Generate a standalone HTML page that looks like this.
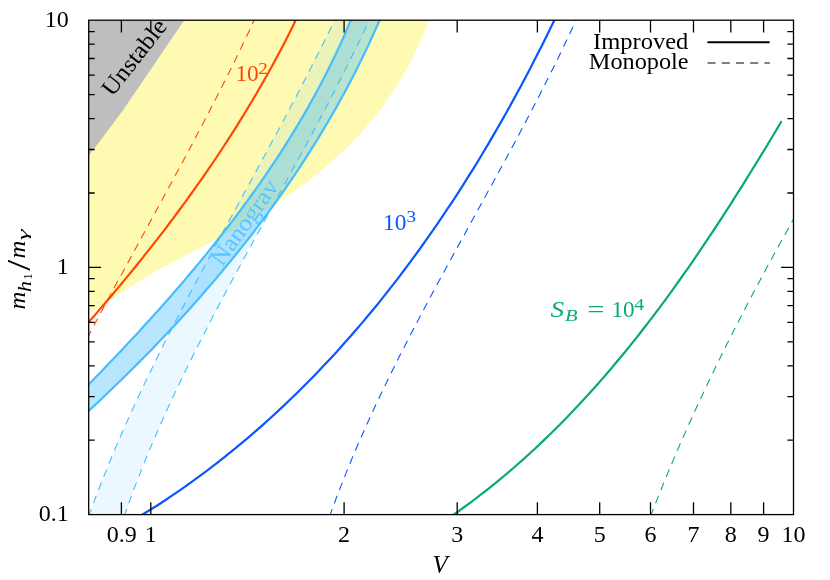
<!DOCTYPE html>
<html><head><meta charset="utf-8"><title>plot</title>
<style>html,body{margin:0;padding:0;background:#fff}svg{display:block;will-change:transform}</style>
</head><body>
<svg width="830" height="580" viewBox="0 0 830 580">
<defs><clipPath id="c"><rect x="88.7" y="20.2" width="704.8" height="494.4"/></clipPath></defs>
<rect width="830" height="580" fill="#fff"/>
<g clip-path="url(#c)">
<path d="M88.7 20.2 L430.0 17.8 L427.7 24.0 L425.2 30.2 L422.6 36.4 L419.9 42.5 L417.1 48.7 L414.1 54.7 L411.1 60.8 L407.9 66.8 L404.5 72.7 L401.1 78.6 L397.6 84.4 L393.9 90.2 L390.1 95.8 L386.2 101.4 L382.3 107.0 L378.2 112.4 L374.0 117.7 L369.7 123.0 L365.3 128.1 L360.8 133.2 L356.2 138.1 L351.5 143.0 L346.7 147.8 L341.9 152.5 L336.9 157.1 L331.9 161.6 L326.8 166.0 L321.7 170.3 L316.5 174.6 L311.2 178.7 L305.8 182.8 L300.4 186.8 L294.9 190.7 L289.4 194.5 L283.8 198.3 L278.2 201.9 L272.5 205.6 L266.8 209.2 L261.0 212.9 L255.3 216.4 L249.4 220.0 L243.6 223.5 L237.7 227.0 L231.8 230.4 L225.9 233.8 L220.0 237.1 L214.1 240.4 L208.1 243.6 L202.2 246.7 L196.2 249.8 L190.2 253.0 L184.3 256.1 L178.3 259.2 L172.4 262.3 L166.5 265.5 L160.6 268.8 L154.7 272.1 L148.8 275.5 L143.0 279.0 L137.2 282.5 L131.4 286.1 L125.7 289.8 L120.0 293.5 L114.3 297.3 L108.7 301.0 L103.1 304.8 L97.5 308.6 L92.0 312.4 L86.6 316.1 L88.7 20.2Z" fill="#fffab2"/>
<path d="M88.7 20.2 L184.3 20.2 L123.2 110 L100.8 140 L88.7 155.6Z" fill="#bebebe"/>
<path d="M88.6 516.6 L91.4 509.0 L94.2 501.4 L97.0 493.8 L99.9 486.3 L102.9 478.7 L105.9 471.2 L108.9 463.7 L112.0 456.3 L115.1 448.8 L118.3 441.4 L121.5 434.0 L124.8 426.6 L128.0 419.3 L131.4 411.9 L134.7 404.6 L138.1 397.3 L141.5 390.0 L145.0 382.7 L148.5 375.4 L152.0 368.2 L155.5 360.9 L159.1 353.7 L162.7 346.5 L166.3 339.3 L170.0 332.1 L173.7 324.9 L177.3 317.7 L181.1 310.6 L184.8 303.4 L188.5 296.3 L192.3 289.1 L196.1 282.0 L199.9 274.9 L203.7 267.8 L207.5 260.7 L211.3 253.6 L215.1 246.5 L219.0 239.4 L222.8 232.3 L226.7 225.2 L230.6 218.1 L234.4 211.0 L238.3 203.9 L242.1 196.8 L246.0 189.7 L249.9 182.7 L253.7 175.6 L257.6 168.5 L261.4 161.4 L265.3 154.3 L269.1 147.2 L272.9 140.1 L276.8 133.0 L280.6 125.9 L284.4 118.8 L288.1 111.6 L291.9 104.5 L295.7 97.4 L299.4 90.2 L303.1 83.1 L306.8 75.9 L310.5 68.7 L314.1 61.5 L317.7 54.4 L321.3 47.2 L324.9 39.9 L328.5 32.7 L332.0 25.5 L335.5 18.2 L370.2 18.2 L366.8 25.5 L363.3 32.8 L359.9 40.0 L356.4 47.3 L352.9 54.5 L349.3 61.7 L345.7 69.0 L342.1 76.1 L338.4 83.3 L334.8 90.5 L331.1 97.7 L327.4 104.8 L323.6 111.9 L319.9 119.1 L316.1 126.2 L312.3 133.3 L308.5 140.4 L304.7 147.5 L300.8 154.6 L297.0 161.7 L293.1 168.8 L289.3 175.8 L285.4 182.9 L281.5 190.0 L277.6 197.0 L273.7 204.1 L269.9 211.2 L266.0 218.2 L262.1 225.3 L258.2 232.4 L254.3 239.5 L250.5 246.5 L246.6 253.6 L242.7 260.7 L238.9 267.8 L235.1 274.9 L231.2 282.0 L227.4 289.1 L223.6 296.2 L219.9 303.3 L216.1 310.5 L212.4 317.6 L208.7 324.7 L205.0 331.9 L201.3 339.1 L197.7 346.3 L194.0 353.5 L190.5 360.7 L186.9 367.9 L183.4 375.2 L179.9 382.4 L176.4 389.7 L173.0 397.0 L169.6 404.3 L166.2 411.6 L162.9 419.0 L159.7 426.3 L156.4 433.7 L153.2 441.1 L150.1 448.6 L147.0 456.0 L144.0 463.5 L141.0 471.0 L138.0 478.5 L135.1 486.1 L132.3 493.7 L129.5 501.3 L126.8 508.9 L124.1 516.6Z" fill="#46bfff" fill-opacity="0.10"/>
<path d="M87.2 386.1 L91.8 381.3 L96.4 376.6 L100.9 371.9 L105.5 367.1 L110.1 362.3 L114.6 357.6 L119.2 352.8 L123.7 347.9 L128.2 343.1 L132.8 338.3 L137.3 333.4 L141.7 328.5 L146.2 323.6 L150.7 318.7 L155.1 313.8 L159.5 308.9 L163.9 303.9 L168.3 298.9 L172.7 293.9 L177.0 288.9 L181.4 283.9 L185.7 278.9 L190.0 273.8 L194.2 268.7 L198.5 263.6 L202.7 258.5 L206.9 253.4 L211.1 248.2 L215.2 243.0 L219.3 237.8 L223.4 232.6 L227.5 227.4 L231.5 222.1 L235.5 216.9 L239.5 211.6 L243.4 206.2 L247.4 200.9 L251.2 195.5 L255.1 190.2 L258.9 184.8 L262.7 179.3 L266.4 173.9 L270.1 168.4 L273.8 162.9 L277.5 157.4 L281.1 151.8 L284.6 146.3 L288.2 140.7 L291.6 135.1 L295.1 129.4 L298.5 123.8 L301.9 118.1 L305.2 112.4 L308.5 106.6 L311.7 100.8 L314.9 95.1 L318.0 89.2 L321.1 83.4 L324.2 77.5 L327.2 71.6 L330.1 65.7 L333.0 59.7 L335.9 53.8 L338.7 47.8 L341.5 41.7 L344.2 35.7 L346.8 29.6 L349.4 23.4 L352.0 17.3 L380.6 17.7 L377.8 24.3 L374.9 30.9 L371.9 37.5 L368.9 44.1 L365.8 50.6 L362.7 57.1 L359.5 63.6 L356.3 70.0 L353.0 76.4 L349.7 82.8 L346.3 89.2 L342.9 95.5 L339.4 101.8 L335.9 108.1 L332.4 114.3 L328.8 120.5 L325.1 126.7 L321.4 132.9 L317.7 139.0 L313.9 145.2 L310.1 151.2 L306.2 157.3 L302.3 163.3 L298.4 169.3 L294.4 175.3 L290.3 181.2 L286.3 187.2 L282.2 193.1 L278.0 198.9 L273.8 204.8 L269.6 210.6 L265.4 216.4 L261.1 222.2 L256.7 227.9 L252.4 233.6 L248.0 239.3 L243.5 244.9 L239.0 250.6 L234.5 256.2 L230.0 261.8 L225.4 267.3 L220.8 272.9 L216.2 278.4 L211.5 283.9 L206.8 289.3 L202.1 294.7 L197.4 300.2 L192.6 305.5 L187.8 310.9 L182.9 316.2 L178.1 321.5 L173.2 326.8 L168.3 332.1 L163.3 337.3 L158.3 342.5 L153.4 347.7 L148.3 352.9 L143.3 358.0 L138.2 363.1 L133.1 368.2 L128.0 373.3 L122.9 378.3 L117.8 383.3 L112.6 388.3 L107.4 393.3 L102.2 398.2 L97.0 403.2 L91.7 408.1 L86.5 412.9Z" fill="#46bfff" fill-opacity="0.385"/>
<path d="M88.6 516.6 L91.4 509.0 L94.2 501.4 L97.0 493.8 L99.9 486.3 L102.9 478.7 L105.9 471.2 L108.9 463.7 L112.0 456.3 L115.1 448.8 L118.3 441.4 L121.5 434.0 L124.8 426.6 L128.0 419.3 L131.4 411.9 L134.7 404.6 L138.1 397.3 L141.5 390.0 L145.0 382.7 L148.5 375.4 L152.0 368.2 L155.5 360.9 L159.1 353.7 L162.7 346.5 L166.3 339.3 L170.0 332.1 L173.7 324.9 L177.3 317.7 L181.1 310.6 L184.8 303.4 L188.5 296.3 L192.3 289.1 L196.1 282.0 L199.9 274.9 L203.7 267.8 L207.5 260.7 L211.3 253.6 L215.1 246.5 L219.0 239.4 L222.8 232.3 L226.7 225.2 L230.6 218.1 L234.4 211.0 L238.3 203.9 L242.1 196.8 L246.0 189.7 L249.9 182.7 L253.7 175.6 L257.6 168.5 L261.4 161.4 L265.3 154.3 L269.1 147.2 L272.9 140.1 L276.8 133.0 L280.6 125.9 L284.4 118.8 L288.1 111.6 L291.9 104.5 L295.7 97.4 L299.4 90.2 L303.1 83.1 L306.8 75.9 L310.5 68.7 L314.1 61.5 L317.7 54.4 L321.3 47.2 L324.9 39.9 L328.5 32.7 L332.0 25.5 L335.5 18.2" fill="none" stroke="#44beff" stroke-width="1.1" stroke-dasharray="8 6.2" />
<path d="M124.1 516.6 L126.8 508.9 L129.5 501.3 L132.3 493.7 L135.1 486.1 L138.0 478.5 L141.0 471.0 L144.0 463.5 L147.0 456.0 L150.1 448.6 L153.2 441.1 L156.4 433.7 L159.7 426.3 L162.9 419.0 L166.2 411.6 L169.6 404.3 L173.0 397.0 L176.4 389.7 L179.9 382.4 L183.4 375.2 L186.9 367.9 L190.5 360.7 L194.0 353.5 L197.7 346.3 L201.3 339.1 L205.0 331.9 L208.7 324.7 L212.4 317.6 L216.1 310.5 L219.9 303.3 L223.6 296.2 L227.4 289.1 L231.2 282.0 L235.1 274.9 L238.9 267.8 L242.7 260.7 L246.6 253.6 L250.5 246.5 L254.3 239.5 L258.2 232.4 L262.1 225.3 L266.0 218.2 L269.9 211.2 L273.7 204.1 L277.6 197.0 L281.5 190.0 L285.4 182.9 L289.3 175.8 L293.1 168.8 L297.0 161.7 L300.8 154.6 L304.7 147.5 L308.5 140.4 L312.3 133.3 L316.1 126.2 L319.9 119.1 L323.6 111.9 L327.4 104.8 L331.1 97.7 L334.8 90.5 L338.4 83.3 L342.1 76.1 L345.7 69.0 L349.3 61.7 L352.9 54.5 L356.4 47.3 L359.9 40.0 L363.3 32.8 L366.8 25.5 L370.2 18.2" fill="none" stroke="#44beff" stroke-width="1.1" stroke-dasharray="8 6.2" />
<path d="M87.2 386.1 L91.8 381.3 L96.4 376.6 L100.9 371.9 L105.5 367.1 L110.1 362.3 L114.6 357.6 L119.2 352.8 L123.7 347.9 L128.2 343.1 L132.8 338.3 L137.3 333.4 L141.7 328.5 L146.2 323.6 L150.7 318.7 L155.1 313.8 L159.5 308.9 L163.9 303.9 L168.3 298.9 L172.7 293.9 L177.0 288.9 L181.4 283.9 L185.7 278.9 L190.0 273.8 L194.2 268.7 L198.5 263.6 L202.7 258.5 L206.9 253.4 L211.1 248.2 L215.2 243.0 L219.3 237.8 L223.4 232.6 L227.5 227.4 L231.5 222.1 L235.5 216.9 L239.5 211.6 L243.4 206.2 L247.4 200.9 L251.2 195.5 L255.1 190.2 L258.9 184.8 L262.7 179.3 L266.4 173.9 L270.1 168.4 L273.8 162.9 L277.5 157.4 L281.1 151.8 L284.6 146.3 L288.2 140.7 L291.6 135.1 L295.1 129.4 L298.5 123.8 L301.9 118.1 L305.2 112.4 L308.5 106.6 L311.7 100.8 L314.9 95.1 L318.0 89.2 L321.1 83.4 L324.2 77.5 L327.2 71.6 L330.1 65.7 L333.0 59.7 L335.9 53.8 L338.7 47.8 L341.5 41.7 L344.2 35.7 L346.8 29.6 L349.4 23.4 L352.0 17.3" fill="none" stroke="#44beff" stroke-width="2.2" stroke-linejoin="round" stroke-linecap="round" />
<path d="M86.5 412.9 L91.7 408.1 L97.0 403.2 L102.2 398.2 L107.4 393.3 L112.6 388.3 L117.8 383.3 L122.9 378.3 L128.0 373.3 L133.1 368.2 L138.2 363.1 L143.3 358.0 L148.3 352.9 L153.4 347.7 L158.3 342.5 L163.3 337.3 L168.3 332.1 L173.2 326.8 L178.1 321.5 L182.9 316.2 L187.8 310.9 L192.6 305.5 L197.4 300.2 L202.1 294.7 L206.8 289.3 L211.5 283.9 L216.2 278.4 L220.8 272.9 L225.4 267.3 L230.0 261.8 L234.5 256.2 L239.0 250.6 L243.5 244.9 L248.0 239.3 L252.4 233.6 L256.7 227.9 L261.1 222.2 L265.4 216.4 L269.6 210.6 L273.8 204.8 L278.0 198.9 L282.2 193.1 L286.3 187.2 L290.3 181.2 L294.4 175.3 L298.4 169.3 L302.3 163.3 L306.2 157.3 L310.1 151.2 L313.9 145.2 L317.7 139.0 L321.4 132.9 L325.1 126.7 L328.8 120.5 L332.4 114.3 L335.9 108.1 L339.4 101.8 L342.9 95.5 L346.3 89.2 L349.7 82.8 L353.0 76.4 L356.3 70.0 L359.5 63.6 L362.7 57.1 L365.8 50.6 L368.9 44.1 L371.9 37.5 L374.9 30.9 L377.8 24.3 L380.6 17.7" fill="none" stroke="#44beff" stroke-width="2.2" stroke-linejoin="round" stroke-linecap="round" />
<path d="M87.2 338.1 L89.7 333.5 L92.1 328.9 L94.6 324.3 L97.1 319.6 L99.5 315.0 L102.0 310.4 L104.5 305.8 L107.0 301.1 L109.5 296.5 L112.0 291.9 L114.4 287.3 L116.9 282.7 L119.4 278.1 L122.0 273.5 L124.5 268.9 L127.0 264.3 L129.5 259.7 L132.0 255.1 L134.5 250.5 L137.0 245.9 L139.5 241.2 L142.0 236.6 L144.6 232.0 L147.1 227.4 L149.6 222.8 L152.1 218.2 L154.6 213.6 L157.1 209.0 L159.6 204.4 L162.1 199.8 L164.6 195.2 L167.1 190.6 L169.6 186.0 L172.1 181.4 L174.6 176.7 L177.1 172.1 L179.6 167.5 L182.1 162.9 L184.6 158.3 L187.0 153.6 L189.5 149.0 L192.0 144.4 L194.4 139.7 L196.9 135.1 L199.3 130.5 L201.7 125.8 L204.2 121.2 L206.6 116.5 L209.0 111.9 L211.4 107.2 L213.8 102.6 L216.2 97.9 L218.6 93.2 L221.0 88.5 L223.3 83.9 L225.7 79.2 L228.0 74.5 L230.4 69.8 L232.7 65.1 L235.0 60.4 L237.3 55.7 L239.6 51.0 L241.9 46.2 L244.2 41.5 L246.4 36.8 L248.7 32.0 L250.9 27.3 L253.1 22.5 L255.3 17.8" fill="none" stroke="#ff4803" stroke-width="1.1" stroke-dasharray="8 6.2" />
<path d="M86.8 324.3 L90.3 320.2 L93.9 316.2 L97.4 312.1 L100.9 308.0 L104.5 303.9 L108.0 299.8 L111.5 295.7 L114.9 291.5 L118.4 287.4 L121.9 283.2 L125.3 279.1 L128.8 274.9 L132.2 270.7 L135.6 266.5 L139.0 262.3 L142.4 258.1 L145.7 253.9 L149.1 249.6 L152.4 245.4 L155.8 241.1 L159.1 236.9 L162.4 232.6 L165.7 228.3 L168.9 224.0 L172.2 219.7 L175.4 215.3 L178.6 211.0 L181.8 206.6 L185.0 202.3 L188.2 197.9 L191.4 193.5 L194.5 189.1 L197.6 184.7 L200.7 180.3 L203.8 175.8 L206.9 171.4 L210.0 166.9 L213.0 162.5 L216.0 158.0 L219.0 153.5 L222.0 149.0 L224.9 144.5 L227.9 139.9 L230.8 135.4 L233.7 130.9 L236.6 126.3 L239.5 121.7 L242.3 117.1 L245.1 112.5 L247.9 107.9 L250.7 103.3 L253.5 98.6 L256.2 94.0 L258.9 89.3 L261.6 84.6 L264.3 79.9 L267.0 75.2 L269.6 70.5 L272.2 65.8 L274.8 61.0 L277.3 56.3 L279.9 51.5 L282.4 46.7 L284.9 41.9 L287.4 37.1 L289.8 32.3 L292.2 27.5 L294.6 22.6 L297.0 17.7" fill="none" stroke="#ff4803" stroke-width="2.2" stroke-linejoin="round" stroke-linecap="round" />
<path d="M329.5 516.7 L332.2 509.1 L335.0 501.5 L337.8 493.9 L340.8 486.4 L343.7 478.9 L346.7 471.4 L349.8 463.9 L352.9 456.4 L356.0 449.0 L359.2 441.6 L362.5 434.2 L365.7 426.8 L369.1 419.5 L372.4 412.1 L375.8 404.8 L379.3 397.5 L382.8 390.3 L386.3 383.0 L389.8 375.7 L393.4 368.5 L397.0 361.3 L400.6 354.1 L404.3 346.9 L407.9 339.7 L411.6 332.5 L415.4 325.4 L419.1 318.2 L422.9 311.1 L426.7 304.0 L430.5 296.8 L434.3 289.7 L438.1 282.6 L442.0 275.5 L445.8 268.4 L449.7 261.3 L453.6 254.2 L457.5 247.1 L461.4 240.1 L465.3 233.0 L469.1 225.9 L473.0 218.8 L476.9 211.8 L480.8 204.7 L484.7 197.6 L488.6 190.5 L492.5 183.4 L496.4 176.3 L500.2 169.2 L504.1 162.2 L507.9 155.1 L511.7 147.9 L515.6 140.8 L519.4 133.7 L523.1 126.6 L526.9 119.4 L530.6 112.3 L534.4 105.1 L538.1 98.0 L541.7 90.8 L545.4 83.6 L549.0 76.4 L552.6 69.2 L556.2 62.0 L559.7 54.7 L563.2 47.5 L566.6 40.2 L570.1 32.9 L573.5 25.6 L576.8 18.3" fill="none" stroke="#0857ff" stroke-width="1.1" stroke-dasharray="8 6.2" />
<path d="M140.6 515.8 L148.7 510.8 L156.8 505.7 L164.8 500.5 L172.7 495.2 L180.5 489.8 L188.3 484.3 L196.1 478.7 L203.7 473.1 L211.3 467.4 L218.8 461.6 L226.3 455.7 L233.7 449.7 L241.0 443.7 L248.2 437.6 L255.4 431.4 L262.6 425.1 L269.6 418.8 L276.6 412.4 L283.6 405.9 L290.4 399.3 L297.2 392.7 L304.0 386.0 L310.7 379.3 L317.3 372.5 L323.8 365.6 L330.3 358.7 L336.8 351.7 L343.1 344.6 L349.4 337.5 L355.7 330.3 L361.9 323.1 L368.0 315.8 L374.1 308.5 L380.1 301.1 L386.0 293.6 L391.9 286.1 L397.8 278.6 L403.5 271.0 L409.2 263.4 L414.9 255.7 L420.5 248.0 L426.0 240.2 L431.5 232.4 L436.9 224.6 L442.3 216.7 L447.6 208.7 L452.9 200.8 L458.1 192.8 L463.2 184.8 L468.3 176.7 L473.4 168.6 L478.4 160.5 L483.3 152.3 L488.2 144.1 L493.0 135.9 L497.7 127.7 L502.5 119.4 L507.1 111.2 L511.7 102.9 L516.3 94.5 L520.8 86.2 L525.3 77.8 L529.7 69.5 L534.0 61.1 L538.3 52.6 L542.6 44.2 L546.8 35.8 L550.9 27.3 L555.0 18.9" fill="none" stroke="#0857ff" stroke-width="2.2" stroke-linejoin="round" stroke-linecap="round" />
<path d="M650.4 516.5 L652.2 512.0 L653.9 507.5 L655.7 503.1 L657.4 498.6 L659.2 494.1 L661.0 489.7 L662.8 485.2 L664.6 480.7 L666.5 476.3 L668.3 471.9 L670.2 467.4 L672.0 463.0 L673.9 458.6 L675.8 454.1 L677.7 449.7 L679.6 445.3 L681.5 440.9 L683.5 436.5 L685.4 432.1 L687.4 427.7 L689.3 423.3 L691.3 418.9 L693.3 414.5 L695.3 410.1 L697.3 405.8 L699.4 401.4 L701.4 397.0 L703.4 392.7 L705.5 388.3 L707.6 384.0 L709.6 379.6 L711.7 375.3 L713.8 370.9 L715.9 366.6 L718.0 362.3 L720.1 358.0 L722.3 353.6 L724.4 349.3 L726.5 345.0 L728.7 340.7 L730.9 336.4 L733.0 332.1 L735.2 327.8 L737.4 323.5 L739.6 319.2 L741.8 315.0 L744.0 310.7 L746.2 306.4 L748.5 302.1 L750.7 297.9 L752.9 293.6 L755.2 289.4 L757.4 285.1 L759.7 280.9 L762.0 276.6 L764.2 272.4 L766.5 268.1 L768.8 263.9 L771.1 259.7 L773.4 255.4 L775.7 251.2 L778.0 247.0 L780.4 242.8 L782.7 238.6 L785.0 234.4 L787.4 230.2 L789.7 226.0 L792.0 221.8 L794.4 217.6" fill="none" stroke="#07aa72" stroke-width="1.1" stroke-dasharray="8 6.2" />
<path d="M452.0 515.8 L458.2 511.5 L464.3 507.0 L470.4 502.6 L476.4 498.0 L482.4 493.4 L488.3 488.8 L494.2 484.1 L500.0 479.3 L505.8 474.5 L511.5 469.7 L517.1 464.7 L522.7 459.8 L528.3 454.8 L533.8 449.7 L539.3 444.6 L544.7 439.4 L550.1 434.2 L555.4 429.0 L560.7 423.7 L565.9 418.4 L571.1 413.0 L576.3 407.6 L581.4 402.1 L586.5 396.6 L591.5 391.1 L596.5 385.5 L601.4 379.9 L606.3 374.2 L611.2 368.5 L616.0 362.8 L620.8 357.0 L625.6 351.3 L630.3 345.4 L635.0 339.6 L639.6 333.7 L644.2 327.8 L648.8 321.8 L653.4 315.9 L657.9 309.9 L662.4 303.9 L666.8 297.8 L671.2 291.8 L675.6 285.7 L680.0 279.5 L684.3 273.4 L688.6 267.3 L692.9 261.1 L697.1 254.9 L701.3 248.7 L705.5 242.4 L709.7 236.2 L713.9 229.9 L718.0 223.7 L722.1 217.4 L726.1 211.1 L730.2 204.8 L734.2 198.4 L738.2 192.1 L742.2 185.8 L746.2 179.4 L750.1 173.0 L754.1 166.7 L758.0 160.3 L761.9 153.9 L765.8 147.6 L769.6 141.2 L773.5 134.8 L777.3 128.4 L781.1 122.0" fill="none" stroke="#07aa72" stroke-width="2.2" stroke-linejoin="round" stroke-linecap="round" />
</g>
<g stroke="#000" stroke-width="1.3" fill="none">
<rect x="88.7" y="20.2" width="704.8" height="494.4"/>
<path d="M121.4 514.6v-12.3M121.4 20.2v12.3M150.8 514.6v-12.3M150.8 20.2v12.3M344.1 514.6v-12.3M344.1 20.2v12.3M457.2 514.6v-12.3M457.2 20.2v12.3M537.4 514.6v-12.3M537.4 20.2v12.3M599.7 514.6v-12.3M599.7 20.2v12.3M650.5 514.6v-12.3M650.5 20.2v12.3M693.5 514.6v-12.3M693.5 20.2v12.3M730.8 514.6v-12.3M730.8 20.2v12.3M763.6 514.6v-12.3M763.6 20.2v12.3M88.7 267.4h12.3M793.4 267.4h-12.3M88.7 440.2h6.0M793.4 440.2h-6.0M88.7 396.7h6.0M793.4 396.7h-6.0M88.7 365.8h6.0M793.4 365.8h-6.0M88.7 341.8h6.0M793.4 341.8h-6.0M88.7 322.3h6.0M793.4 322.3h-6.0M88.7 305.7h6.0M793.4 305.7h-6.0M88.7 291.4h6.0M793.4 291.4h-6.0M88.7 278.7h6.0M793.4 278.7h-6.0M88.7 193.0h6.0M793.4 193.0h-6.0M88.7 149.5h6.0M793.4 149.5h-6.0M88.7 118.6h6.0M793.4 118.6h-6.0M88.7 94.7h6.0M793.4 94.7h-6.0M88.7 75.1h6.0M793.4 75.1h-6.0M88.7 58.5h6.0M793.4 58.5h-6.0M88.7 44.2h6.0M793.4 44.2h-6.0M88.7 31.6h6.0M793.4 31.6h-6.0"/>
</g>
<g font-family="'Liberation Serif', serif" fill="#000">
<text x="121.8" y="541.8" font-size="24" text-anchor="middle">0.9</text>
<text x="150.8" y="541.8" font-size="24" text-anchor="middle">1</text>
<text x="344.1" y="541.8" font-size="24" text-anchor="middle">2</text>
<text x="457.2" y="541.8" font-size="24" text-anchor="middle">3</text>
<text x="537.4" y="541.8" font-size="24" text-anchor="middle">4</text>
<text x="599.7" y="541.8" font-size="24" text-anchor="middle">5</text>
<text x="650.5" y="541.8" font-size="24" text-anchor="middle">6</text>
<text x="693.5" y="541.8" font-size="24" text-anchor="middle">7</text>
<text x="730.8" y="541.8" font-size="24" text-anchor="middle">8</text>
<text x="763.6" y="541.8" font-size="24" text-anchor="middle">9</text>
<text x="793.6" y="541.8" font-size="24" text-anchor="middle">10</text>
<text x="68.7" y="26.8" font-size="24" text-anchor="end">10</text>
<text x="68.7" y="273.9" font-size="24" text-anchor="end">1</text>
<text x="68.7" y="521.1" font-size="24" text-anchor="end">0.1</text>
<text x="440.2" y="572.5" font-size="25" text-anchor="middle" font-style="italic" textLength="15.2" lengthAdjust="spacingAndGlyphs">V</text>
<g transform="translate(24.8 309.6) rotate(-90)">
<text x="0.0" y="0.0" font-size="24" font-style="italic" textLength="17.8" lengthAdjust="spacingAndGlyphs">m</text>
<text x="17.6" y="6.2" font-size="18" font-style="italic" textLength="11.0" lengthAdjust="spacingAndGlyphs">h</text>
<text x="30.2" y="7.4" font-size="12">1</text>
<text x="38.8" y="5.6" font-size="33" textLength="11.0" lengthAdjust="spacingAndGlyphs">/</text>
<text x="51.0" y="0.0" font-size="24" font-style="italic" textLength="17.8" lengthAdjust="spacingAndGlyphs">m</text>
<text x="69.4" y="3.6" font-size="15" font-style="italic" textLength="11.0" lengthAdjust="spacingAndGlyphs">γ</text>
</g>
<text x="688.3" y="49.0" font-size="23.5" text-anchor="end" textLength="95.3" lengthAdjust="spacingAndGlyphs">Improved</text>
<text x="688.6" y="68.7" font-size="23.5" text-anchor="end" textLength="99.8" lengthAdjust="spacingAndGlyphs">Monopole</text>
</g>
<path d="M708.2 42.3H768.8" stroke="#000" stroke-width="2" stroke-linecap="round"/>
<path d="M707.6 63H769.8" stroke="#000" stroke-width="1.1" stroke-dasharray="8 6.2"/>
<g font-family="'Liberation Serif', serif">
<g transform="translate(134.3 57.3) rotate(-52)">
<text x="0.0" y="7.6" font-size="24" text-anchor="middle" textLength="90.0" lengthAdjust="spacingAndGlyphs">Unstable</text>
</g>
<g transform="translate(246.0 223.5) rotate(-54.5)">
<text x="0.0" y="6.0" font-size="24" text-anchor="middle" fill="#58c6ff" textLength="99.0" lengthAdjust="spacingAndGlyphs">Nanograv</text>
</g>
<text x="235.4" y="81.2" font-size="23.5" fill="#ff4803" textLength="23.4" lengthAdjust="spacingAndGlyphs">10</text>
<text x="258.2" y="73.6" font-size="16" fill="#ff4803" textLength="9.6" lengthAdjust="spacingAndGlyphs">2</text>
<text x="383.0" y="230.3" font-size="23.5" fill="#0857ff" textLength="23.4" lengthAdjust="spacingAndGlyphs">10</text>
<text x="406.6" y="222.4" font-size="16" fill="#0857ff" textLength="9.6" lengthAdjust="spacingAndGlyphs">3</text>
<text x="550.6" y="317.3" font-size="24" fill="#07aa72" font-style="italic" textLength="13.6" lengthAdjust="spacingAndGlyphs">S</text>
<text x="565.0" y="320.9" font-size="16" fill="#07aa72" font-style="italic" textLength="12.6" lengthAdjust="spacingAndGlyphs">B</text>
<text x="587.2" y="317.3" font-size="24" fill="#07aa72" textLength="17.2" lengthAdjust="spacingAndGlyphs">=</text>
<text x="611.5" y="317.3" font-size="23.5" fill="#07aa72" textLength="23.2" lengthAdjust="spacingAndGlyphs">10</text>
<text x="634.2" y="310.2" font-size="16" fill="#07aa72" textLength="10.0" lengthAdjust="spacingAndGlyphs">4</text>
</g>
</svg>
</body></html>
